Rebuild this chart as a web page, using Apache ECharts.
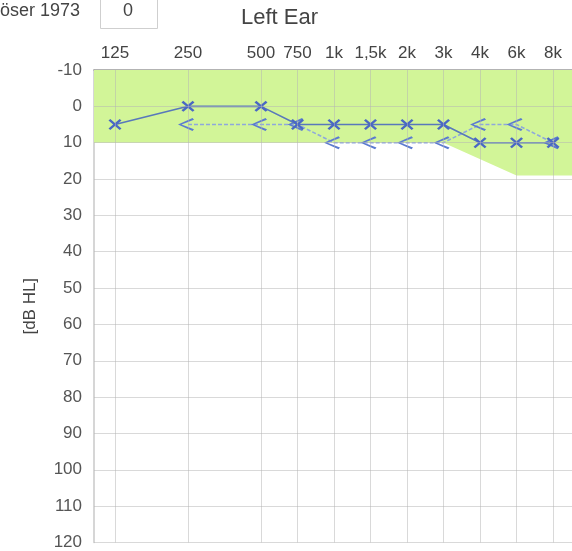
<!DOCTYPE html>
<html>
<head>
<meta charset="utf-8">
<script src="https://cdn.jsdelivr.net/npm/echarts@6/dist/echarts.min.js"></script>
<style>
html,body{margin:0;padding:0;background:#fff;}
#c{width:572px;height:551px;}
</style>
</head>
<body>
<div id="c"></div>
<script>
// Frequencies (labels) and their positions on the audiogram x scale
const freqLabels = ['125','250','500','750','1k','1,5k','2k','3k','4k','6k','8k'];
const freqPos    = [0, 2, 4, 5, 6, 7, 8, 9, 10, 11, 12];
// Air conduction (X markers, solid line)
const airValues  = [5, 0, 0, 5, 5, 5, 5, 5, 10, 10, 10];
// Bone conduction (< markers, dashed line)
const boneValues = [null, 5, 5, 5, 10, 10, 10, 10, 5, 5, 10];
// Normal-hearing band lower boundary
const normX = [-0.575, 9, 11, 12.52];
const normY = [10, 10, 19, 19];
// dB ticks
const dbTicks = [-10,0,10,20,30,40,50,60,70,80,90,100,110,120];

const FONT = 'Liberation Sans, Arial, sans-serif';
const pair = (xs, ys) => xs.map((x,i)=> ys[i]==null ? null : [x, ys[i]]).filter(p=>p);

const crossPath = 'path://M0,1.4 L1.4,0 L5,3.6 L8.6,0 L10,1.4 L6.4,5 L10,8.6 L8.6,10 L5,6.4 L1.4,10 L0,8.6 L3.6,5 Z';
const chevPath  = 'path://M10,0 L11,1.3 L2.4,5 L11,8.7 L10,10 L0,5 Z';

const chart = echarts.init(document.getElementById('c'));
chart.setOption({
  animation: false,
  backgroundColor: '#fff',
  grid: {left: 94, right: 0, top: 70, bottom: 5},
  xAxis: {
    type: 'value', position: 'top', min: -0.575, max: 12.52,
    axisLine: {show: true, onZero: false, lineStyle: {color: '#9a9a9a', width: 1.5}},
    axisTick: {show: false},
    splitLine: {show: false},
    axisLabel: {
      customValues: freqPos,
      formatter: v => { const i = freqPos.indexOf(v); return i >= 0 ? freqLabels[i] : ''; },
      fontSize: 17, color: '#444', fontFamily: FONT, margin: 8
    }
  },
  yAxis: {
    type: 'value', inverse: true, min: -10, max: 120, interval: 10,
    axisLine: {show: true, onZero: false, lineStyle: {color: '#c8c8c8', width: 1.5}},
    axisTick: {show: false},
    splitLine: {show: false},
    axisLabel: {fontSize: 17, color: '#555', fontFamily: FONT, margin: 12},
    name: '[dB HL]', nameLocation: 'middle', nameRotate: 90, nameGap: 55,
    nameTextStyle: {fontSize: 17, color: '#444', fontFamily: FONT}
  },
  graphic: [
    {type: 'text', left: 0, top: 2, style: {text: 'öser 1973', font: '18px ' + FONT, fill: '#444'}},
    {type: 'rect', left: 100, top: -2, shape: {width: 57, height: 30}, style: {fill: '#fff', stroke: '#cfcfcf', lineWidth: 1}},
    {type: 'text', left: 123, top: 2, style: {text: '0', font: '18px ' + FONT, fill: '#444'}},
    {type: 'text', left: 241, top: 7, style: {text: 'Left Ear', font: '22px ' + FONT, fill: '#444'}}
  ],
  series: [
    {
      type: 'line', z: 1, silent: true, symbol: 'none',
      data: pair(normX, normY),
      lineStyle: {width: 0},
      areaStyle: {color: '#d2f598', opacity: 1, origin: 'start'}
    },
    {
      type: 'line', z: 2, silent: true, symbol: 'none', data: [],
      markLine: {
        silent: true, symbol: 'none', label: {show: false},
        lineStyle: {color: 'rgba(180,180,180,0.5)', type: 'solid', width: 1},
        data: freqPos.map(x => ({xAxis: x})).concat(dbTicks.slice(1).map(y => ({yAxis: y})))
      }
    },
    {
      name: 'Bone', type: 'line', z: 3,
      data: pair(freqPos, boneValues),
      symbol: chevPath, symbolSize: [16, 13], symbolOffset: [-2, 0],
      itemStyle: {color: '#5b7bd0'},
      lineStyle: {color: '#8ea8dc', width: 1.6, type: [4, 2]}
    },
    {
      name: 'Air', type: 'line', z: 4,
      data: pair(freqPos, airValues),
      symbol: crossPath, symbolSize: [13, 11],
      itemStyle: {color: '#4a68c4'},
      lineStyle: {color: '#5878bb', width: 1.6}
    }
  ]
});
</script>
</body>
</html>
